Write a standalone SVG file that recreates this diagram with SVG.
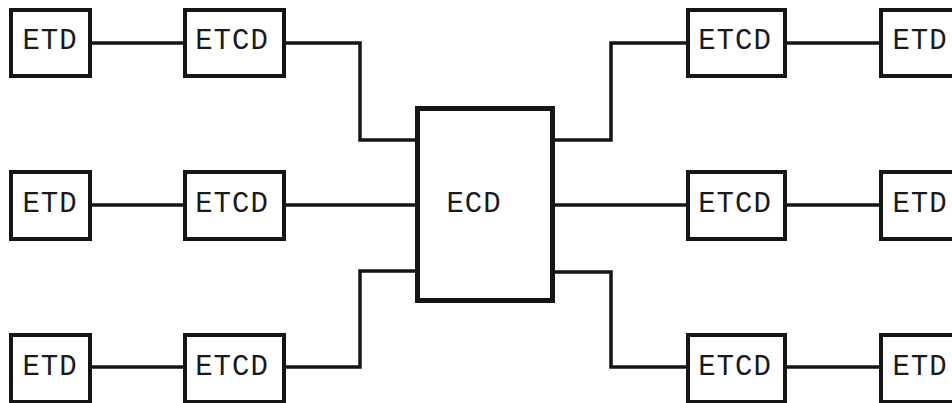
<svg xmlns="http://www.w3.org/2000/svg" width="952" height="403" viewBox="0 0 952 403">
<style>
.box{fill:#fff;stroke:#151515;stroke-width:4}
.big{fill:#fff;stroke:#151515;stroke-width:5}
.lbl{font-family:"Liberation Mono","DejaVu Sans Mono",monospace;font-size:29px;fill:#1a1a1a;text-anchor:middle;letter-spacing:1px}
.wire{fill:none;stroke:#151515;stroke-width:3.5;stroke-linejoin:miter;stroke-linecap:square}
</style>
<rect width="952" height="403" fill="#fff"/>
<g id="connectors">
<path class="wire" d="M90 43H185"/>
<path class="wire" d="M284 43H360V140H417"/>
<path class="wire" d="M90 205H185"/>
<path class="wire" d="M284 205H417"/>
<path class="wire" d="M90 367H185"/>
<path class="wire" d="M284 367H360V271H417"/>
<path class="wire" d="M552 140H611V43H688"/>
<path class="wire" d="M785 43H881"/>
<path class="wire" d="M552 205H688"/>
<path class="wire" d="M785 205H881"/>
<path class="wire" d="M552 272H611V367H688"/>
<path class="wire" d="M785 367H881"/>
</g>
<g id="etd-l1"><rect class="box" x="11" y="10" width="79" height="66"/><text class="lbl" x="50" y="49">ETD</text></g>
<g id="etcd-l1"><rect class="box" x="185" y="10" width="99" height="66"/><text class="lbl" x="232" y="49">ETCD</text></g>
<g id="etd-l2"><rect class="box" x="11" y="172" width="79" height="67"/><text class="lbl" x="50" y="212">ETD</text></g>
<g id="etcd-l2"><rect class="box" x="185" y="172" width="99" height="67"/><text class="lbl" x="232" y="212">ETCD</text></g>
<g id="etd-l3"><rect class="box" x="11" y="335" width="79" height="67"/><text class="lbl" x="50" y="375">ETD</text></g>
<g id="etcd-l3"><rect class="box" x="185" y="335" width="99" height="67"/><text class="lbl" x="232" y="375">ETCD</text></g>
<g id="ecd"><rect class="big" x="417.5" y="108.5" width="135" height="192"/><text class="lbl" x="474" y="212">ECD</text></g>
<g id="etcd-r1"><rect class="box" x="688" y="10" width="97" height="66"/><text class="lbl" x="735" y="49">ETCD</text></g>
<g id="etd-r1"><rect class="box" x="881" y="10" width="79" height="66"/><text class="lbl" x="920" y="49">ETD</text></g>
<g id="etcd-r2"><rect class="box" x="688" y="172" width="97" height="67"/><text class="lbl" x="735" y="212">ETCD</text></g>
<g id="etd-r2"><rect class="box" x="881" y="172" width="79" height="67"/><text class="lbl" x="920" y="212">ETD</text></g>
<g id="etcd-r3"><rect class="box" x="688" y="335" width="97" height="67"/><text class="lbl" x="735" y="375">ETCD</text></g>
<g id="etd-r3"><rect class="box" x="881" y="335" width="79" height="67"/><text class="lbl" x="920" y="375">ETD</text></g>
</svg>
